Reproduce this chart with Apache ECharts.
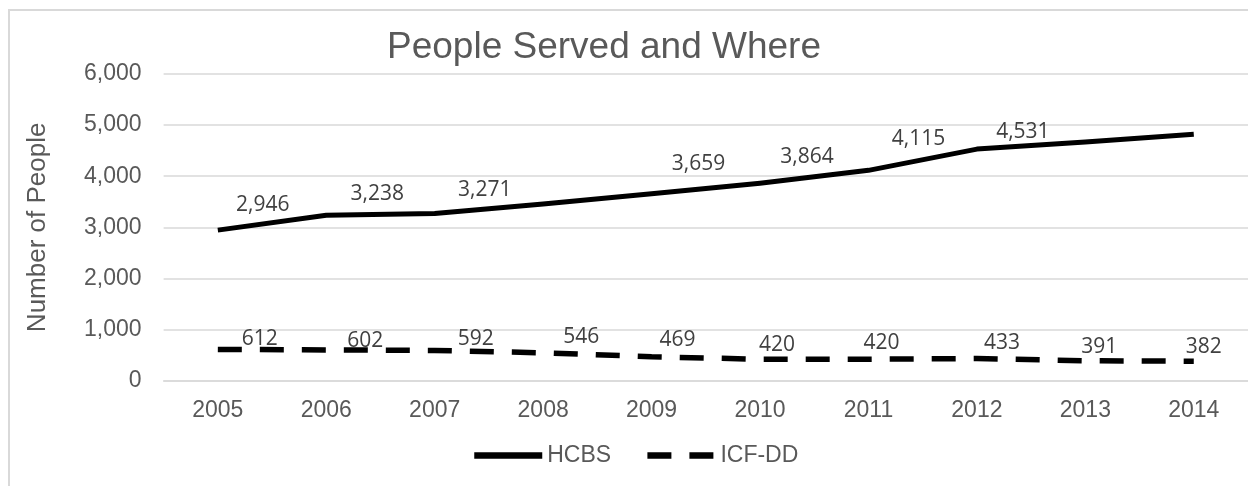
<!DOCTYPE html>
<html>
<head>
<meta charset="utf-8">
<script src="https://cdn.jsdelivr.net/npm/echarts@6/dist/echarts.min.js"></script>
<style>
  html, body { margin: 0; padding: 0; background: #ffffff; }
  #chart { width: 1248px; height: 486px; }
</style>
</head>
<body>
<div id="chart"></div>
<script>
// Years on the category axis
const years = ['2005', '2006', '2007', '2008', '2009', '2010', '2011', '2012', '2013', '2014'];
// People served in home and community based services
const hcbs = [2946, 3238, 3271, 3458, 3659, 3864, 4115, 4531, 4672, 4822];
// People served in ICF-DD facilities
const icfdd = [612, 602, 592, 546, 469, 420, 420, 433, 391, 382];
// Which HCBS points carry a value label
const hcbsLabelled = [true, true, true, false, true, true, true, true, false, false];

// Hand-placed label nudges (x, y) relative to each point
const hcbsLabelNudge = [[45, -25], [51, -21], [50, -23], [0, 0], [47, -30], [47, -26], [50, -31], [46, -17], [0, 0], [0, 0]];
const icfLabelNudge = [[42, -10], [39, -9], [41, -11], [38, -16], [26, -17], [17, -14], [13, -16], [25, -16], [14, -14], [10, -14]];

const gray = '#595959';
const thousands = v => Number(v).toLocaleString('en-US');
const labelFont = {
  fontFamily: 'Open Sans', fontSize: 21, color: '#404040',
  formatter: p => thousands(p.value)
};

function withLabels(values, nudges, shown) {
  return values.map((v, i) => ({
    value: v,
    label: {
      show: shown ? shown[i] : true,
      position: 'inside',
      offset: nudges[i]
    }
  }));
}

const chart = echarts.init(document.getElementById('chart'), null, { renderer: 'canvas' });

chart.setOption({
  backgroundColor: '#ffffff',
  animation: false,
  title: {
    text: 'People Served and Where',
    left: 599,
    top: 24,
    textAlign: 'center',
    textStyle: { fontFamily: 'Liberation Sans', fontSize: 37, fontWeight: 'normal', color: gray }
  },
  graphic: [{
    type: 'rect',
    shape: { x: 9, y: 10, width: 1260, height: 500 },
    style: { fill: 'none', stroke: '#d9d9d9', lineWidth: 2 },
    silent: true,
    z: -1
  }],
  grid: { left: 163.6, top: 74, width: 1088.7, height: 306.7, containLabel: false },
  legend: {
    left: 466,
    top: 439,
    itemWidth: 68,
    itemHeight: 14,
    itemGap: 33,
    textStyle: { fontFamily: 'Liberation Sans', fontSize: 23, color: gray },
    lineStyle: { width: 6.5 },
    data: ['HCBS', 'ICF-DD']
  },
  xAxis: {
    type: 'category',
    data: years,
    boundaryGap: true,
    axisLine: { show: true, lineStyle: { color: '#d9d9d9', width: 1.5 } },
    axisTick: { show: false },
    axisLabel: { fontFamily: 'Liberation Sans', fontSize: 23, color: gray, margin: 18 }
  },
  yAxis: {
    type: 'value',
    min: 0,
    max: 6000,
    interval: 1000,
    name: 'Number of People',
    nameLocation: 'middle',
    nameGap: 113,
    nameTextStyle: { fontFamily: 'Liberation Sans', fontSize: 26, color: gray },
    axisLine: { show: false },
    axisTick: { show: false },
    axisLabel: {
      fontFamily: 'Liberation Sans', fontSize: 23, color: gray, margin: 22,
      formatter: thousands
    },
    splitLine: { lineStyle: { color: '#d9d9d9', width: 1.5 } }
  },
  series: [
    {
      name: 'HCBS',
      type: 'line',
      data: withLabels(hcbs, hcbsLabelNudge, hcbsLabelled),
      symbol: 'circle',
      symbolSize: 1,
      showSymbol: true,
      itemStyle: { color: 'rgba(0,0,0,0)' },
      lineStyle: { color: '#000000', width: 5, cap: 'butt', join: 'round' },
      label: labelFont,
      z: 3
    },
    {
      name: 'ICF-DD',
      type: 'line',
      data: withLabels(icfdd, icfLabelNudge, null),
      symbol: 'circle',
      symbolSize: 1,
      showSymbol: true,
      itemStyle: { color: 'rgba(0,0,0,0)' },
      lineStyle: { color: '#000000', width: 5.5, type: [24, 18], cap: 'butt' },
      label: labelFont,
      z: 2
    }
  ]
});
</script>
</body>
</html>
